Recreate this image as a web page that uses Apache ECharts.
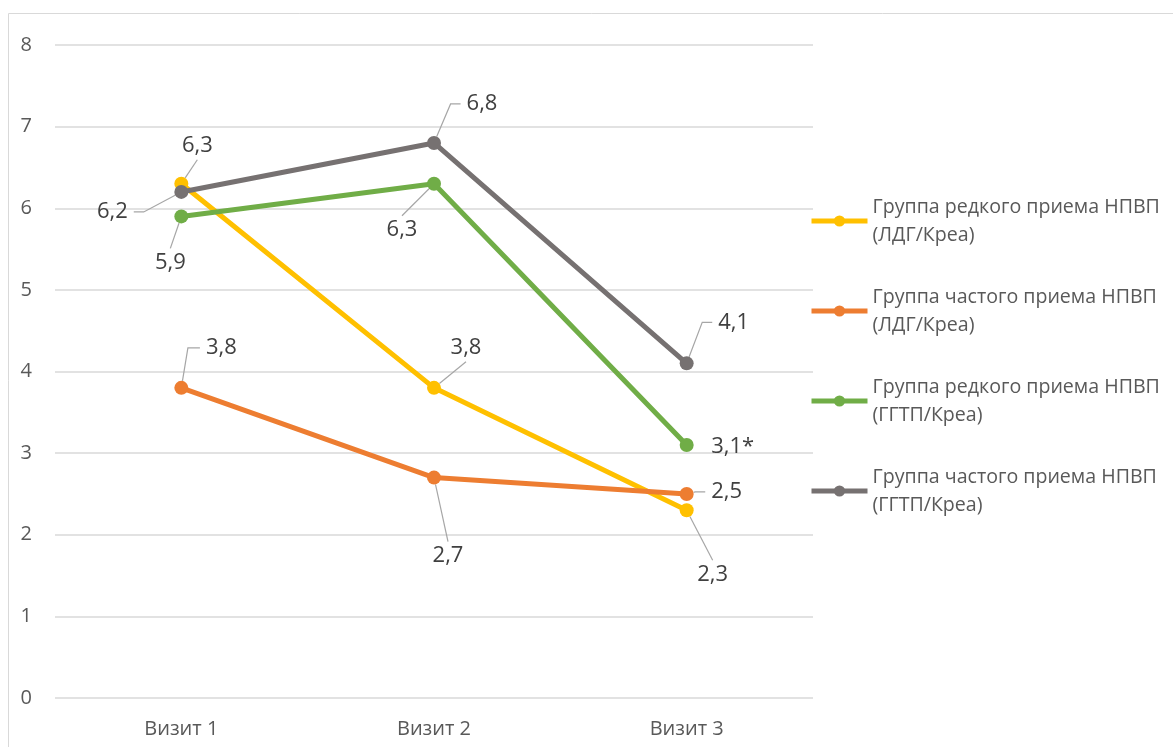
<!DOCTYPE html>
<html>
<head>
<meta charset="utf-8">
<script src="https://cdn.jsdelivr.net/npm/echarts@6/dist/echarts.min.js"></script>
<style>
  html, body { margin: 0; padding: 0; background: #ffffff; }
  #chart { width: 1173px; height: 747px; }
</style>
</head>
<body>
<div id="chart"></div>
<script>
// Visits on the x axis
const categories = ['Визит 1', 'Визит 2', 'Визит 3'];

// Ratios per group
const rareLdg = [6.3, 3.8, 2.3];
const frequentLdg = [3.8, 2.7, 2.5];
const rareGgtp = [5.9, 6.3, 3.1];
const frequentGgtp = [6.2, 6.8, 4.1];

// Significance marks appended to the value labels
const rareGgtpMarks = ['', '', '*'];

const seriesNames = [
  'Группа редкого приема НПВП\n(ЛДГ/Креа)',
  'Группа частого приема НПВП\n(ЛДГ/Креа)',
  'Группа редкого приема НПВП\n(ГГТП/Креа)',
  'Группа частого приема НПВП\n(ГГТП/Креа)'
];

const yTicks = { min: 0, max: 8, interval: 1 };

const colors = ['#FFC000', '#ED7D31', '#70AD47', '#767171'];

// Label placement: offset of each value label from its point, and the
// length of the horizontal/vertical elbow of its leader line (null = no leader)
const labelOffsets = [
  [[16, -38], [32, -40], [26, 64]],
  [[40, -40], [14, 78], [40, -2]],
  [[-11, 46], [-32, 46], [46, 2]],
  [[-69, 20], [48, -39], [47, -41]]
];
const leaderElbows = [
  [0, 0, 0],
  [12, 0, 10],
  [0, 0, null],
  [10, 10, 10]
];

const values = [rareLdg, frequentLdg, rareGgtp, frequentGgtp];
const marks = [null, null, rareGgtpMarks, null];

function fmt(v) {
  return String(v).replace('.', ',');
}

const series = values.map(function (vals, si) {
  return {
    name: seriesNames[si],
    type: 'line',
    data: vals.map(function (v, di) {
      const elbow = leaderElbows[si][di];
      return {
        value: v,
        labelLine: elbow === null ? { show: false } : { show: true, length2: elbow }
      };
    }),
    symbol: 'circle',
    symbolSize: 14,
    lineStyle: { width: 5, color: colors[si] },
    itemStyle: { color: colors[si] },
    label: {
      show: true,
      position: 'inside',
      color: '#404040',
      fontSize: 22,
      fontFamily: 'Open Sans',
      padding: [3, 6],
      backgroundColor: 'rgba(255,255,255,0)',
      formatter: function (p) {
        const m = marks[si] ? marks[si][p.dataIndex] : '';
        return fmt(p.value) + m;
      }
    },
    labelLine: {
      show: true,
      lineStyle: { color: '#A6A6A6', width: 1.2 }
    },
    labelLayout: function (p) {
      const o = labelOffsets[si][p.dataIndex];
      return { dx: o[0], dy: o[1] };
    },
    emphasis: { disabled: true },
    animation: false
  };
});

const chart = echarts.init(document.getElementById('chart'), null, { renderer: 'canvas' });
chart.setOption({
  animation: false,
  color: colors,
  textStyle: { fontFamily: 'Open Sans' },
  graphic: [{
    type: 'rect',
    shape: { x: 8.5, y: 13.5, width: 1300, height: 900 },
    style: { fill: 'none', stroke: '#D9D9D9', lineWidth: 1 },
    silent: true
  }],
  grid: { left: 55, right: 360, top: 45, bottom: 49 },
  xAxis: {
    type: 'category',
    data: categories,
    boundaryGap: true,
    axisLine: { show: false },
    axisTick: { show: false },
    axisLabel: { color: '#595959', fontSize: 20, margin: 21, fontFamily: 'Open Sans' }
  },
  yAxis: {
    type: 'value',
    min: yTicks.min,
    max: yTicks.max,
    interval: yTicks.interval,
    axisLine: { show: false },
    axisTick: { show: false },
    axisLabel: {
      color: '#595959', fontSize: 20, margin: 23, fontFamily: 'Open Sans',
      formatter: function (v) { return fmt(v); }
    },
    splitLine: { lineStyle: { color: '#D9D9D9', width: 1.5 } }
  },
  legend: {
    orient: 'vertical',
    left: 804,
    top: 174,
    itemWidth: 56,
    itemHeight: 14,
    itemGap: 6,
    selectedMode: false,
    lineStyle: { width: 5 },
    textStyle: {
      color: '#595959',
      fontSize: 19.6,
      fontFamily: 'Open Sans',
      lineHeight: 28,
      padding: [28, 0, 0, 0]
    },
    data: seriesNames
  },
  series: series
});
</script>
</body>
</html>
